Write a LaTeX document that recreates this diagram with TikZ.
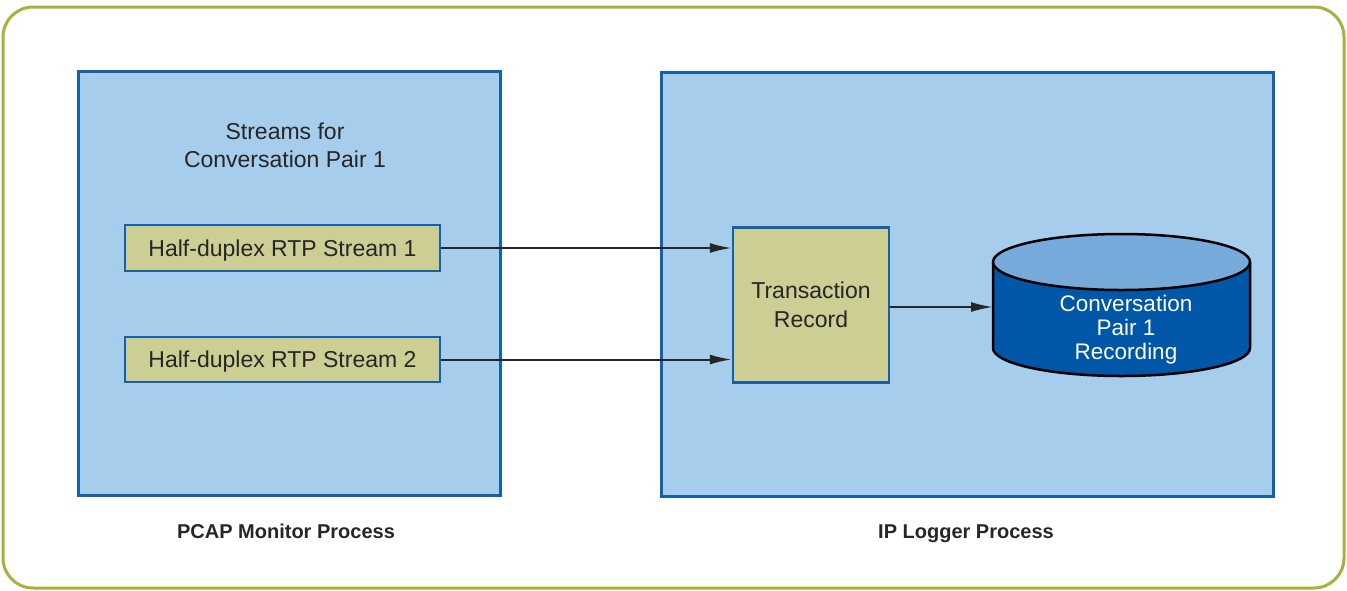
\documentclass[tikz,border=0pt]{standalone}
\usepackage{fontspec}
\setmainfont{Liberation Sans}
\usetikzlibrary{arrows.meta,shapes.geometric}
\definecolor{frameolive}{HTML}{A8B23A}
\definecolor{panelblue}{HTML}{A6CDEB}
\definecolor{edgeblue}{HTML}{1560A8}
\definecolor{boxkhaki}{HTML}{CCCE94}
\definecolor{cylbody}{HTML}{0057A8}
\definecolor{cyltop}{HTML}{76AADA}
\begin{document}
\begin{tikzpicture}[x=1pt,y=-1pt,
  panel/.style={draw=edgeblue,line width=2.5pt,fill=panelblue},
  khaki/.style={draw=edgeblue,line width=2.5pt,fill=boxkhaki,inner sep=0pt,font=\fontsize{23}{28}\selectfont,text=black!85},
  conn/.style={line width=2pt,black!85,-{Latex[length=22pt,width=10pt]}},
  lbl/.style={font=\fontsize{20}{24}\selectfont\bfseries,text=black!85,anchor=base}
]
\useasboundingbox (0,0) rectangle (1347,590);
\draw[frameolive,line width=3pt,rounded corners=30pt] (3,7) rectangle (1344,588);
\node[panel,minimum width=422pt,minimum height=424pt,anchor=north west] (left) at (77,70) {};
\node[panel,minimum width=612pt,minimum height=424pt,anchor=north west] (right) at (660,71) {};
\node[align=center,font=\fontsize{23}{28}\selectfont,text=black!85] (title) at (285,145) {Streams for\\Conversation Pair 1};
\node[khaki,minimum width=315pt,minimum height=46pt,text height=20pt,text depth=4pt] (s1) at (282.5,248) {Half-duplex RTP Stream 1};
\node[khaki,minimum width=315pt,minimum height=45pt,text height=20pt,text depth=4pt] (s2) at (282.5,359.5) {Half-duplex RTP Stream 2};
\node[khaki,minimum width=156pt,minimum height=155pt,align=center,font=\fontsize{23}{29}\selectfont] (tr) at (811,305) {Transaction\\Record};
% cylinder
\coordinate (cl) at (993,307);
\fill[cylbody] (993,262) -- (993,348) arc[start angle=180,end angle=360,x radius=128.5pt,y radius=28pt] -- (1250,262) -- cycle;
\draw[black,line width=2.5pt] (993,262) -- (993,348) arc[start angle=180,end angle=360,x radius=128.5pt,y radius=28pt] -- (1250,262);
\draw[black,line width=2.5pt,fill=cyltop] (1121.5,262) ellipse[x radius=128.5pt,y radius=28pt];
\node[align=center,text=white,font=\fontsize{22.5}{24}\selectfont] (rec) at (1126,330) {Conversation\\Pair 1\\Recording};
\draw[conn] (s1.east) -- (s1.east -| tr.west);
\draw[conn] (s2.east) -- (s2.east -| tr.west);
\draw[conn] (tr.east |- cl) -- (cl);
\node[lbl] (lp) at (286,538) {PCAP Monitor Process};
\node[lbl] (rp) at (966,538) {IP Logger Process};
\end{tikzpicture}
\end{document}
